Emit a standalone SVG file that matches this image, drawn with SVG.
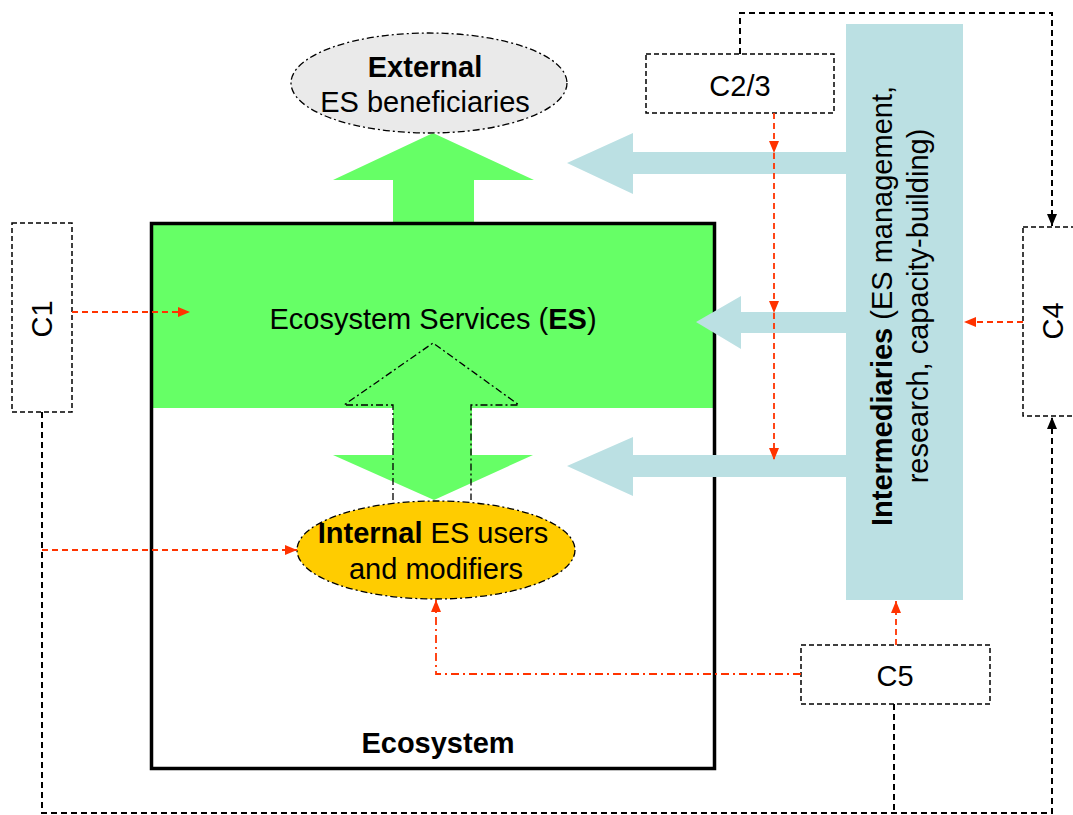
<svg xmlns="http://www.w3.org/2000/svg" width="1073" height="815" viewBox="0 0 1073 815">
<style>
text{font-family:"Liberation Sans",Arial,sans-serif;font-size:29px;fill:#000}
.b{font-weight:bold}
.cbox{fill:#fff;stroke:#000;stroke-width:1.5;stroke-dasharray:5 3}
.bl{fill:none;stroke:#000;stroke-width:2;stroke-dasharray:6 4}
.rd{fill:none;stroke:#FF3300;stroke-width:1.8;stroke-dasharray:6 4}
.rdd{fill:none;stroke:#FF3300;stroke-width:1.8;stroke-dasharray:8 4 2 4}
.dd{fill:none;stroke:#000;stroke-width:1.3;stroke-dasharray:7 3 2 3}
.green{fill:#66FF66}
.blue{fill:#BBE0E3}
</style>
<defs>
<marker id="ra" markerUnits="userSpaceOnUse" markerWidth="12" markerHeight="10" refX="12" refY="5" orient="auto"><path d="M0,0 L12,5 L0,10 z" fill="#FF3300"/></marker>
<marker id="ka" markerUnits="userSpaceOnUse" markerWidth="12" markerHeight="10" refX="12" refY="5" orient="auto"><path d="M0,0 L12,5 L0,10 z" fill="#000"/></marker>
</defs>
<rect width="1073" height="815" fill="#fff"/>

<g id="ecosystem">
<rect class="green" x="151" y="223" width="564" height="185"/>
<path class="green" d="M393,226 V180 H333 L433,133 L534,180 H474 V226 Z"/>
<path class="green" d="M393,405 V455 H333 L434,500 L533,455 H472 V405 Z"/>
<rect x="151.5" y="223.5" width="563" height="545" fill="none" stroke="#000" stroke-width="3.5"/>
<path class="dd" d="M393,500 V405 H344 L433,343 L519,405 H471 V500"/>
<text x="433" y="329" text-anchor="middle">Ecosystem Services (<tspan class="b">ES</tspan>)</text>
<text class="b" x="438" y="753" text-anchor="middle">Ecosystem</text>
</g>

<g id="external">
<ellipse cx="429" cy="83" rx="138" ry="50" fill="#EAEAEA" stroke="#000" stroke-width="1.3" stroke-dasharray="7 3 2 3"/>
<text class="b" x="425" y="77" text-anchor="middle">External</text>
<text x="425" y="112" text-anchor="middle">ES beneficiaries</text>
</g>

<g id="internal">
<ellipse cx="436" cy="550" rx="139" ry="49" fill="#FFCC00" stroke="#000" stroke-width="1.3" stroke-dasharray="7 3 2 3"/>
<text x="433" y="543" text-anchor="middle"><tspan class="b">Internal</tspan> ES users</text>
<text x="436" y="579" text-anchor="middle">and modifiers</text>
</g>

<g id="intermediaries">
<rect class="blue" x="846" y="24" width="117" height="576"/>
<path class="blue" d="M846,152 H633 V133 L567,163 L633,194 V174 H846 Z"/>
<path class="blue" d="M846,312 H741 V296 L696,322 L741,349 V333 H846 Z"/>
<path class="blue" d="M846,455 H633 V437 L567,466 L633,496 V477 H846 Z"/>
<g transform="translate(892,306) rotate(-90)">
<text x="0" y="0" text-anchor="middle"><tspan class="b">Intermediaries</tspan> (ES management,</text>
<text x="0" y="36" text-anchor="middle">research, capacity-building)</text>
</g>
</g>

<g id="c1">
<rect class="cbox" x="12" y="223" width="60" height="189"/>
<text transform="translate(52,319) rotate(-90)" text-anchor="middle">C1</text>
</g>
<g id="c23">
<rect class="cbox" x="646" y="54" width="188" height="59"/>
<text x="740" y="96" text-anchor="middle">C2/3</text>
</g>
<g id="c4">
<rect class="cbox" x="1023" y="227" width="70" height="189"/>
<text transform="translate(1063,321) rotate(-90)" text-anchor="middle">C4</text>
</g>
<g id="c5">
<rect class="cbox" x="801" y="645" width="189" height="59"/>
<text x="895" y="686" text-anchor="middle">C5</text>
</g>

<g id="connectors">
<path class="bl" d="M42,412 V813 H1052 V417" marker-end="url(#ka)"/>
<path class="bl" d="M894,704 V813"/>
<path class="bl" d="M740,54 V13 H1052 V226" marker-end="url(#ka)"/>
<path class="rd" d="M72,312 H190" marker-end="url(#ra)"/>
<path class="rd" d="M42,550 H297" marker-end="url(#ra)"/>
<path class="rd" d="M774,113 V153" marker-end="url(#ra)"/>
<path class="rd" d="M774,153 V313" marker-end="url(#ra)"/>
<path class="rd" d="M774,313 V460" marker-end="url(#ra)"/>
<path class="rd" d="M1023,322 H964" marker-end="url(#ra)"/>
<path class="rd" d="M896,645 V601" marker-end="url(#ra)"/>
<path class="rdd" d="M801,674 H436 V600" marker-end="url(#ra)"/>
</g>
</svg>
